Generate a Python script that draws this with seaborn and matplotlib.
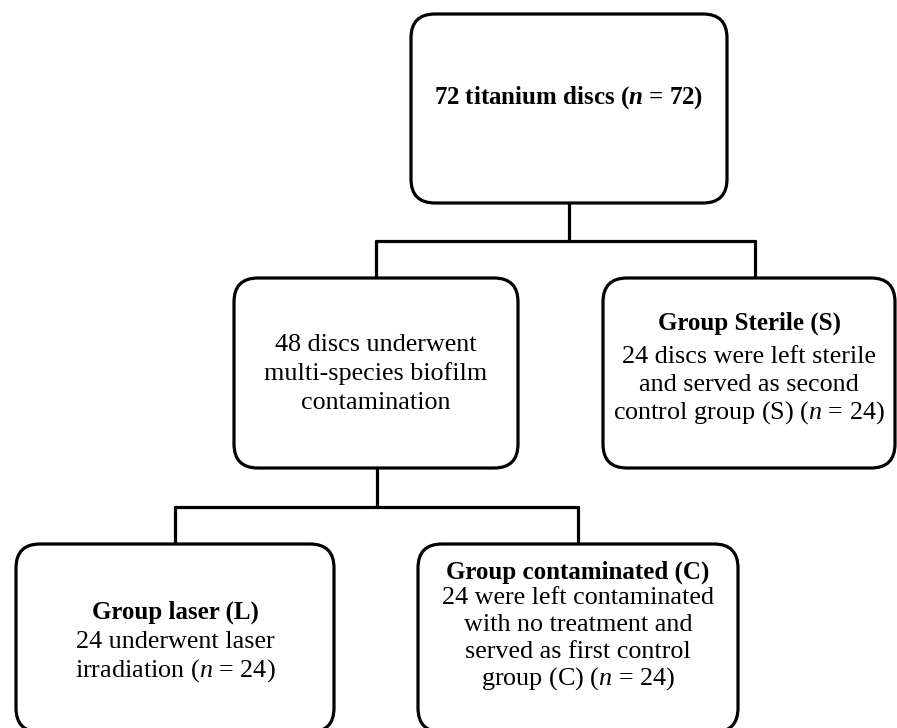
import matplotlib
matplotlib.use("Agg")
import matplotlib.pyplot as plt
from matplotlib.patches import FancyBboxPatch
import seaborn as sns

# box texts (title line first, None when the box has no bold title)
top_title = r"72 titanium discs ($\mathbfit{n}$ = 72)"
top_lines = []
mid_title = None
mid_lines = ["48 discs underwent", "multi-species biofilm", "contamination"]
sterile_title = "Group Sterile (S)"
sterile_lines = ["24 discs were left sterile", "and served as second",
                 r"control group (S) ($n$ = 24)"]
laser_title = "Group laser (L)"
laser_lines = ["24 underwent laser", r"irradiation ($n$ = 24)"]
contam_title = "Group contaminated (C)"
contam_lines = ["24 were left contaminated", "with no treatment and",
                "served as first control", r"group (C) ($n$ = 24)"]

sns.set_theme(style="white")
plt.rcParams["font.family"] = ["Liberation Serif", "DejaVu Serif"]
plt.rcParams["text.color"] = "black"
plt.rcParams["mathtext.fontset"] = "custom"
plt.rcParams["mathtext.rm"] = "Liberation Serif"
plt.rcParams["mathtext.it"] = "Liberation Serif:italic"
plt.rcParams["mathtext.bf"] = "Liberation Serif:bold"
plt.rcParams["mathtext.bfit"] = "Liberation Serif:bold:italic"

fig = plt.figure(figsize=(8.97, 7.28), dpi=100)
ax = fig.add_axes([0, 0, 1, 1])
ax.set_xlim(0, 897)
ax.set_ylim(728, 0)
ax.axis("off")

LW = 2.3
FS = 18.8
FS_B = 18.0

# layout: (x0, y0, x1, y1, first text line y, line spacing, gap after title)
boxes = [
    (411, 14, 727, 203, 98, 29, 0, top_title, top_lines),
    (234, 278, 518, 468, 345, 29, 0, mid_title, mid_lines),
    (603, 278, 895, 468, 323, 28, 34, sterile_title, sterile_lines),
    (16, 544, 334, 732, 612, 29, 30, laser_title, laser_lines),
    (418, 544, 738, 732, 572, 27, 26, contam_title, contam_lines),
]

for x0, y0, x1, y1, ty, dy, gap, title, lines in boxes:
    ax.add_patch(FancyBboxPatch((x0, y0), x1 - x0, y1 - y0,
                                boxstyle="round,pad=0,rounding_size=24",
                                fc="white", ec="black", lw=LW, zorder=2))
    cx = (x0 + x1) / 2
    y = ty
    if title is not None:
        ax.text(cx, y, title, ha="center", va="center", fontsize=FS_B,
                fontweight="bold", color="black", zorder=3)
        y += gap
    for ln in lines:
        ax.text(cx, y, ln, ha="center", va="center", fontsize=FS,
                color="black", zorder=3)
        y += dy

# connectors
paths = [
    ([569, 569], [203, 241]),
    ([376, 755], [241, 241]),
    ([376, 376], [241, 278]),
    ([755, 755], [241, 278]),
    ([377, 377], [468, 507]),
    ([175, 578], [507, 507]),
    ([175, 175], [507, 544]),
    ([578, 578], [507, 544]),
]
for xs, ys in paths:
    sns.lineplot(x=xs, y=ys, sort=False, estimator=None, color="black",
                 lw=LW, ax=ax, zorder=1)

fig.savefig("out.png", dpi=100)
